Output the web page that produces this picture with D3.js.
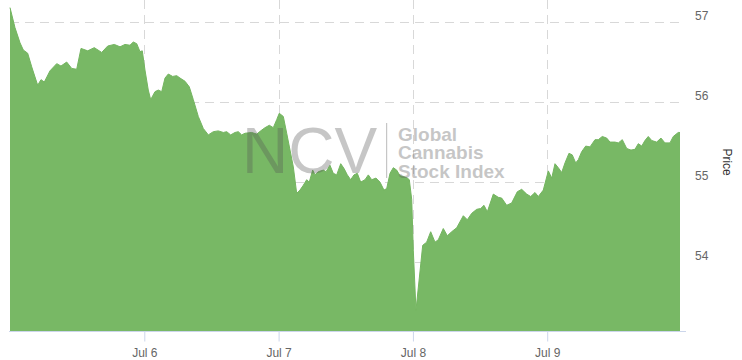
<!DOCTYPE html>
<html>
<head>
<meta charset="utf-8">
<script src="https://cdn.jsdelivr.net/npm/d3@7/dist/d3.min.js"></script>
<style>
  html, body { margin: 0; padding: 0; background: #fff; }
  svg { display: block; font-family: "Liberation Sans", Arial, sans-serif; }
</style>
</head>
<body>
<svg id="chart" width="742" height="360"></svg>
<script>
// Hours since Jul 5 (00:00) for each sample
const hours = [0, 0.89, 1.79, 2.38, 3.16, 3.88, 4.95, 5.54, 6.13, 7.15, 8.35, 9.11, 10.13, 11.03, 11.92,
  12.69, 13.89, 15.06, 16.39, 17.46, 18.64, 19.66, 20.55, 21.44, 22.03, 22.64, 23.23, 23.64,
  24.12, 24.71, 25.14, 25.91, 26.50, 27.11, 27.70, 28.29, 29.07, 29.79, 30.38, 31.27, 32.04,
  32.76, 33.65, 34.54, 35.44, 36.33, 37.22, 38.12, 38.72, 39.44, 40.21, 40.80, 41.40, 41.99,
  43.19, 44.09, 44.98, 45.57, 46.34, 47.05, 47.66, 48.12, 48.84, 49.45, 50.04, 50.63, 51.23,
  51.82, 52.41, 53.02, 53.48, 54.09, 54.50, 55.09, 55.99, 56.47, 57.18, 57.77, 58.38, 59.10,
  59.69, 60.28, 60.88, 61.47, 62.06, 62.67, 63.44, 64.03, 64.64, 65.40, 66.12, 66.83, 67.32,
  67.91, 68.50, 69.10, 69.69, 70.28, 71.00, 71.36, 71.79, 72.07, 72.55, 73.75, 74.46, 75.18,
  75.95, 76.54, 77.43, 78.15, 78.93, 79.83, 81.01, 81.72, 82.51, 83.40, 84.11, 84.70, 85.30,
  86.37, 87.26, 87.87, 88.76, 89.65, 90.66, 91.44, 92.34, 93.05, 93.82, 94.41, 95.30, 96.20,
  96.81, 97.39, 97.98, 98.59, 99.18, 99.89, 100.48, 101.09, 101.56, 102.16, 102.88, 103.65,
  104.54, 105.13, 105.84, 106.63, 107.22, 108.11, 108.71, 109.42, 110.21, 110.97, 111.69,
  112.28, 112.89, 113.47, 114.06, 114.67, 115.56, 116.33, 117.04, 117.94, 118.53, 119.42, 119.73];

const prices = [57.18, 56.93, 56.74, 56.65, 56.61, 56.44, 56.21, 56.28, 56.25, 56.39, 56.48, 56.45, 56.50, 56.42, 56.41,
  56.67, 56.64, 56.68, 56.62, 56.70, 56.72, 56.69, 56.72, 56.71, 56.75, 56.73, 56.63, 56.64,
  56.40, 56.15, 56.03, 56.13, 56.15, 56.13, 56.30, 56.35, 56.32, 56.33, 56.30, 56.26, 56.19,
  56.03, 55.82, 55.67, 55.59, 55.63, 55.64, 55.62, 55.63, 55.59, 55.62, 55.63, 55.59, 55.61,
  55.62, 55.60, 55.65, 55.68, 55.71, 55.68, 55.78, 55.86, 55.82, 55.61, 55.40, 55.19, 54.86,
  54.90, 54.96, 55.03, 55.00, 55.15, 55.09, 55.13, 55.15, 55.13, 55.21, 55.11, 55.09, 55.23,
  55.17, 55.09, 55.03, 55.09, 55.11, 55.00, 55.03, 55.09, 55.03, 55.05, 55.00, 54.90, 54.92,
  55.11, 55.18, 55.15, 55.08, 55.07, 55.05, 55.03, 54.78, 54.15, 53.40, 54.21, 54.25, 54.38,
  54.25, 54.28, 54.42, 54.33, 54.38, 54.43, 54.58, 54.53, 54.61, 54.66, 54.67, 54.71, 54.63,
  54.85, 54.81, 54.80, 54.71, 54.74, 54.88, 54.91, 54.85, 54.82, 54.87, 54.82, 54.90, 55.14,
  55.05, 55.23, 55.18, 55.12, 55.24, 55.36, 55.34, 55.24, 55.28, 55.38, 55.45, 55.44,
  55.53, 55.53, 55.57, 55.55, 55.50, 55.50, 55.49, 55.53, 55.42, 55.40, 55.41,
  55.48, 55.45, 55.52, 55.57, 55.52, 55.50, 55.55, 55.49, 55.49, 55.57, 55.62, 55.62];

const yTicks = [54, 55, 56, 57];
const xTickLabels = ["Jul 6", "Jul 7", "Jul 8", "Jul 9"];
const yRange = [53.14, 57.275];
const seriesName = "Price";
const watermarkMain = "NCV";
const watermarkLines = ["Global", "Cannabis", "Stock Index"];

const start = new Date(2018, 6, 5, 0, 0, 0);
const data = hours.map((h, i) => ({ t: new Date(start.getTime() + h * 3600e3), v: prices[i] }));
const xTickDates = xTickLabels.map((_, i) => new Date(2018, 6, 6 + i));

const svg = d3.select("#chart");
const plot = { left: 10, right: 680, top: 0, bottom: 331 };

const x = d3.scaleTime()
  .domain(d3.extent(data, d => d.t))
  .range([plot.left, plot.right]);
const y = d3.scaleLinear()
  .domain(yRange)
  .range([plot.bottom, plot.top]);

// gridlines
const grid = svg.append("g");
grid.selectAll("line.h").data(yTicks).enter().append("line")
  .attr("x1", plot.left).attr("x2", plot.right + 3)
  .attr("y1", d => Math.round(y(d)) + 0.5).attr("y2", d => Math.round(y(d)) + 0.5)
  .attr("stroke", "#d8d8d8").attr("stroke-dasharray", "9,6");
grid.selectAll("line.v").data(xTickDates).enter().append("line")
  .attr("x1", d => Math.round(x(d)) + 0.5).attr("x2", d => Math.round(x(d)) + 0.5)
  .attr("y1", plot.top).attr("y2", plot.bottom)
  .attr("stroke", "#d8d8d8").attr("stroke-dasharray", "9,6");

// area
const area = d3.area()
  .x(d => x(d.t))
  .y0(plot.bottom)
  .y1(d => y(d.v))
  .curve(d3.curveLinear);
svg.append("path").datum(data)
  .attr("d", area)
  .attr("fill", "#78b865");
svg.append("path").datum(data)
  .attr("d", d3.line().x(d => x(d.t)).y(d => y(d.v)))
  .attr("fill", "none").attr("stroke", "#74b560").attr("stroke-width", 1);

// watermark
const wm = svg.append("g").attr("fill", "#555").attr("opacity", 0.33);
wm.append("text").attr("x", 242).attr("y", 173)
  .attr("font-size", 64).attr("font-family", "'Liberation Sans', Arial, sans-serif")
  .text(watermarkMain);
wm.append("rect").attr("x", 386).attr("y", 123).attr("width", 1.2).attr("height", 55);
wm.selectAll("text.sub").data(watermarkLines).enter().append("text")
  .attr("x", 398).attr("y", (d, i) => 141 + i * 18.3)
  .attr("font-size", 19).attr("font-weight", "bold")
  .text(d => d);

// x axis
const xAxis = d3.axisBottom(x)
  .tickValues(xTickDates)
  .tickFormat((d, i) => xTickLabels[i])
  .tickSize(10).tickSizeOuter(0);
const gx = svg.append("g").attr("transform", `translate(0,${plot.bottom + 0.5})`).call(xAxis);
gx.select(".domain").attr("stroke", "#ccd6eb").attr("d", `M${plot.left - 1},0H${plot.right + 6}`);
gx.selectAll(".tick line").attr("stroke", "#ccd6eb");
gx.selectAll(".tick text").attr("fill", "#666").attr("font-size", 12).attr("dy", "1.05em")
  .attr("font-family", "'Liberation Sans', Arial, sans-serif");

// y axis (right)
const yAxis = d3.axisRight(y).tickValues(yTicks).tickSize(0).tickFormat(d3.format("d"));
const gy = svg.append("g").attr("transform", `translate(695,0)`).call(yAxis);
gy.select(".domain").remove();
gy.selectAll(".tick text").attr("x", 0).attr("dy", "-0.2em").attr("fill", "#666")
  .attr("font-size", 12).attr("font-family", "'Liberation Sans', Arial, sans-serif");

svg.append("text")
  .attr("transform", `translate(723,${y(55.25)}) rotate(90)`)
  .attr("text-anchor", "middle")
  .attr("fill", "#333").attr("font-size", 12)
  .text(seriesName);
</script>
</body>
</html>
